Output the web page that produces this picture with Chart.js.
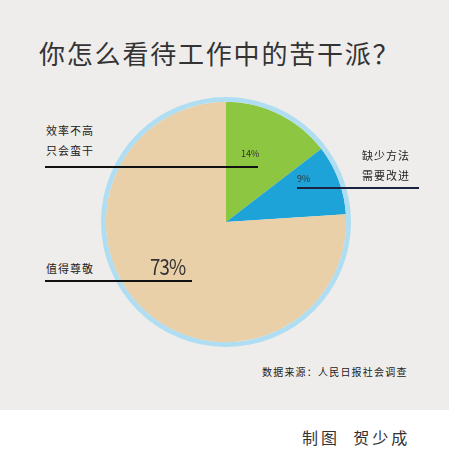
<!DOCTYPE html>
<html>
<head>
<meta charset="utf-8">
<script src="https://cdn.jsdelivr.net/npm/chart.js@4.4.1/dist/chart.umd.min.js"></script>
<style>
  html, body { margin: 0; padding: 0; background: #fff; width: 455px; height: 453px; overflow: hidden; }
  body { position: relative; font-family: "Noto Sans CJK SC", "Noto Sans", sans-serif; color: #2b2b2b; }
  #panel { position: absolute; left: 0; top: 0; width: 449px; height: 410px; background: #eeedeb; }
  #title { position: absolute; left: 39px; top: 34px; font-size: 26px; letter-spacing: 1.8px; color: #333; white-space: nowrap; }
  #wrap { position: absolute; left: 96px; top: 92px; width: 260px; height: 260px; }
  .lbl { position: absolute; font-size: 11px; line-height: 20px; letter-spacing: 1px; white-space: nowrap; color: #222; }
  .rule { position: absolute; height: 2px; background: #111; }
  .pct { position: absolute; font-size: 9px; color: #333; white-space: nowrap; }
  #big { position: absolute; font-size: 22px; color: #333; letter-spacing: -1px; transform: scaleX(0.85); transform-origin: left; }
  #src { position: absolute; left: 262px; top: 364px; font-size: 10px; letter-spacing: 1.2px; color: #222; white-space: nowrap; }
  #credit { position: absolute; left: 302px; top: 425px; font-size: 16px; letter-spacing: 3px; color: #333; white-space: nowrap; }
</style>
</head>
<body>
<div id="panel"></div>
<div id="title">你怎么看待工作中的苦干派？</div>
<div id="wrap"><canvas id="pie"></canvas></div>

<div class="lbl" style="left:46px;top:120px">效率不高<br>只会蛮干</div>
<div class="rule" style="left:45px;top:166px;width:213px"></div>
<div class="pct" id="p0" style="left:241px;top:147px"></div>

<div class="lbl" style="left:362px;top:145px">缺少方法<br>需要改进</div>
<div class="rule" style="left:297px;top:187px;width:122px;background:#1b2340"></div>
<div class="pct" id="p1" style="left:297px;top:172px"></div>

<div class="lbl" style="left:46px;top:258px">值得尊敬</div>
<div class="rule" style="left:45px;top:280px;width:147px"></div>
<div id="big" style="left:150px;top:249px"></div>

<div id="src">数据来源：人民日报社会调查</div>
<div id="credit">制图&nbsp;&nbsp;贺少成</div>

<script>
// ---------------------------------------------------------------------------
// Data
// ---------------------------------------------------------------------------

const categories = ['效率不高，只会蛮干', '缺少方法，需要改进', '值得尊敬'];
const shares = [14, 9, 73];            // percent, clockwise from 12 o'clock
const sliceColors = ['#8dc641', '#1ea3d9', '#e9d0a8'];
const ringColor = '#afdef2';

function fmtPct(v) { return v + '%'; }

document.getElementById('p0').textContent = fmtPct(shares[0]);
document.getElementById('p1').textContent = fmtPct(shares[1]);
document.getElementById('big').textContent = fmtPct(shares[2]);

// ---------------------------------------------------------------------------
// Pie
// ---------------------------------------------------------------------------

const ctx = document.getElementById('pie').getContext('2d');
new Chart(ctx, {
  type: 'pie',
  data: {
    labels: categories,
    datasets: [
      // thin light-blue rim round the pie
      { data: [1], backgroundColor: [ringColor], borderWidth: 0, weight: 0.04 },
      { data: shares, backgroundColor: sliceColors, borderWidth: 0, weight: 1 }
    ]
  },
  options: {
    responsive: true,
    maintainAspectRatio: false,
    animation: false,
    devicePixelRatio: 1,
    layout: { padding: 5 },
    plugins: { legend: { display: false }, tooltip: { enabled: false } }
  }
});
</script>
</body>
</html>
